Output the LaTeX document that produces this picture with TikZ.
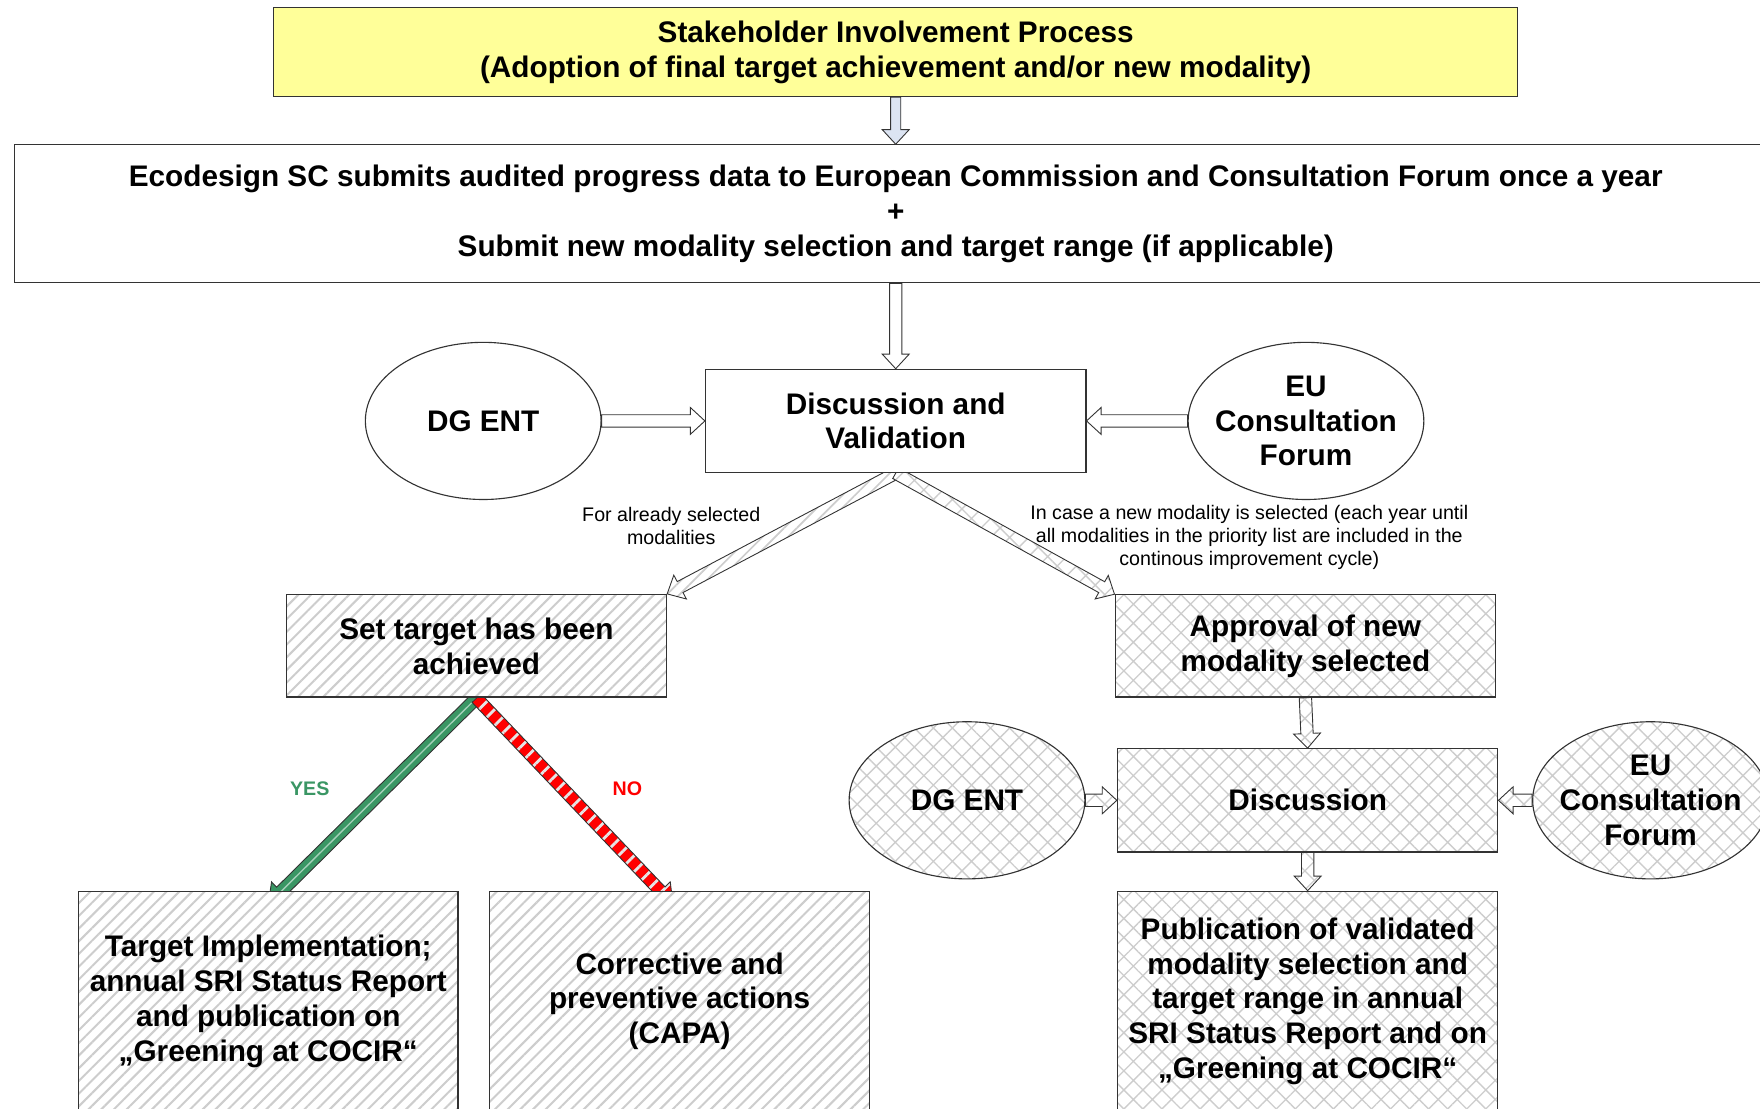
\documentclass[tikz,border=0pt]{standalone}
\usepackage{fontspec}
\setmainfont{Liberation Sans}
\usetikzlibrary{positioning, calc, shapes.geometric, patterns.meta}
\pgfdeclarelayer{bg}
\pgfsetlayers{bg,main}
\definecolor{sipyellow}{RGB}{255,255,153}
\definecolor{arrowblue}{RGB}{220,228,242}
\definecolor{yesgreen}{RGB}{58,150,100}
\definecolor{hatchgray}{RGB}{205,205,205}
\def\shaftw{5.5pt}
\def\headw{12pt}
\def\headl{13pt}
\newcommand{\blockarrow}[3][]{%
	\coordinate (bas) at (#2);
	\coordinate (bae) at (#3);
	\coordinate (bah) at ($(bae)!\headl!(bas)$);
	\draw[barrow,#1] ($(bas)!\shaftw!90:(bae)$) -- ($(bah)!\shaftw!-90:(bas)$) -- ($(bah)!\headw!-90:(bas)$) -- (bae)
		-- ($(bah)!\headw!90:(bas)$) -- ($(bah)!\shaftw!90:(bas)$) -- ($(bas)!\shaftw!-90:(bae)$) -- cycle;
}

\begin{document}
\begin{tikzpicture}[x=1pt,y=-1pt,on grid,
	every node/.style={font=\bfseries\fontsize{26.5}{31}\selectfont, align=center, text=black},
	box/.style={rectangle, draw=black!80, line width=1pt, fill=white, minimum width=339pt, minimum height=92pt, inner sep=0pt},
	hatchbox/.style={box, preaction={fill=white}, pattern={Lines[angle=45,distance=8pt,line width=1.8pt]}, pattern color=hatchgray},
	crossbox/.style={box, preaction={fill=white}, pattern={Hatch[angle=45,distance=12pt,line width=1.2pt]}, pattern color=hatchgray},
	tall/.style={minimum height=196pt},
	plainell/.style={ellipse, draw=black!80, line width=1pt, fill=white, minimum width=210pt, minimum height=140pt, inner sep=-10pt},
	crossell/.style={plainell, preaction={fill=white}, pattern={Hatch[angle=45,distance=12pt,line width=1.2pt]}, pattern color=hatchgray},
	lbl/.style={font=\fontsize{17.5}{20.5}\selectfont},
	barrow/.style={draw=black!80, line width=0.8pt, fill=white},
	hatcharrow/.style={preaction={fill=white}, pattern={Lines[angle=45,distance=8pt,line width=1.5pt]}, pattern color=hatchgray},
	crossarrow/.style={preaction={fill=white}, pattern={Hatch[angle=45,distance=12pt,line width=1.2pt]}, pattern color=hatchgray},
	yesarrow/.style={fill=yesgreen},
	noarrow/.style={preaction={fill=red}, pattern={Lines[angle=45,distance=10pt,line width=2.5pt]}, pattern color=white!80!gray}]
	\useasboundingbox (0,0) rectangle (1568,988);

	\node[box, fill=sipyellow, minimum width=1108pt, minimum height=79pt] (1) at (798,46.5) {Stakeholder Involvement Process\\(Adoption of final target achievement and/or new modality)};
	\node[box, minimum width=1570pt, minimum height=123pt] (2) [below=144pt of 1] {Ecodesign SC submits audited progress data to European Commission and Consultation Forum once a year\\+\\Submit new modality selection and target range (if applicable)};
	\node[box] (3) [below=184.5pt of 2] {Discussion and\\Validation};
	\node[plainell] (4) [left=367.5pt of 3] {DG ENT};
	\node[plainell] (5) [right=365.5pt of 3] {EU\\Consultation\\Forum};
	\node[hatchbox, minimum width=338pt, minimum height=91pt] (6) [below left=200.5pt and 373.5pt of 3] {Set target has been\\achieved};
	\node[crossbox, minimum height=91pt] (7) [below right=200.5pt and 365pt of 3] {Approval of new\\modality selected};
	\node[crossbox] (8) [below right=137.5pt and 2pt of 7] {Discussion};
	\node[crossell] (9) [left=303.5pt of 8] {DG ENT};
	\node[crossell] (10) [right=305.5pt of 8] {EU\\Consultation\\Forum};
	\node[crossbox, tall] (13) [below=179pt of 8] {Publication of validated\\modality selection and\\target range in annual\\SRI Status Report and on\\„Greening at COCIR“};
	\node[hatchbox, tall, minimum width=338pt] (11) at (239,892) {Target Implementation;\\annual SRI Status Report\\and publication on\\„Greening at COCIR“};
	\node[hatchbox, tall] (12) [right=366.5pt of 11] {Corrective and\\preventive actions\\(CAPA)};

	\node[lbl] (l1) at (598,469) {For already selected\\modalities};
	\node[lbl] (l2) at (1113,479) {In case a new modality is selected (each year until\\all modalities in the priority list are included in the\\continous improvement cycle)};
	\node[font=\bfseries\fontsize{17.5}{20}\selectfont, text=yesgreen] (yes) at (276,703) {YES};
	\node[font=\bfseries\fontsize{17.5}{20}\selectfont, text=red] (no) at (559,703) {NO};

	\begin{pgfonlayer}{bg}
		\def\shaftw{4.5pt}
		\blockarrow[fill=arrowblue]{1.south}{2.north}
		\def\shaftw{5.5pt}
		\blockarrow{2.south}{3.north}
		\blockarrow{4.east}{3.west}
		\blockarrow{5.west}{3.east}
		\blockarrow[hatcharrow]{3.south}{6.north east}
		\blockarrow[crossarrow]{3.south}{7.north west}
		\blockarrow[crossarrow]{7.south}{8.north}
		\blockarrow[crossarrow]{9.east}{8.west}
		\blockarrow[crossarrow]{10.west}{8.east}
		\blockarrow[crossarrow]{8.south}{13.north}
		\def\headl{16pt}
		\blockarrow[yesarrow]{6.south}{$(11.north)+(0,12)$}
		\draw[yesgreen!45!white, line width=1.2pt] (bas) -- (bah);
		\blockarrow[noarrow]{6.south}{$(12.north)+(-6,12)$}
	\end{pgfonlayer}
\end{tikzpicture}
\end{document}
